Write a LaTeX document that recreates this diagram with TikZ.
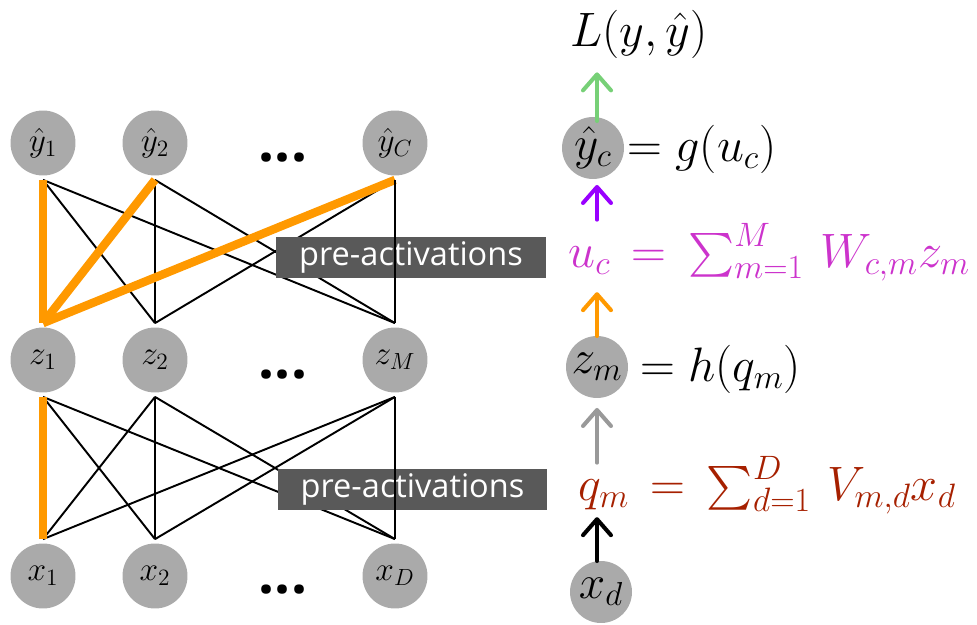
\RequirePackage{fix-cm}
\documentclass[tikz,border=0pt]{standalone}
\usepackage{amsmath}
\usepackage{exscale}
\usepackage{fontspec}
\newfontfamily\labelfont{Open Sans}
\usetikzlibrary{arrows.meta}
\definecolor{unitgray}{HTML}{AAAAAA}
\definecolor{boxgray}{HTML}{595959}
\definecolor{hotorange}{HTML}{FF9900}
\definecolor{lossgreen}{HTML}{77D077}
\definecolor{actpurple}{HTML}{9900FF}
\definecolor{sumpink}{HTML}{CC33CC}
\definecolor{sumred}{HTML}{A62000}
\definecolor{midgray}{HTML}{999999}
\tikzset{
  u/.style={circle,fill=unitgray,minimum size=1.3cm,inner sep=0pt,outer sep=2.5pt,font=\fontsize{19}{23}\selectfont},
  ubig/.style={u,minimum size=1.24cm,outer sep=0pt,font=\fontsize{27}{32}\selectfont},
  e/.style={line width=1.1pt},
  hot/.style={line width=4.8pt,draw=hotorange},
  pa/.style={fill=boxgray,text=white,minimum width=5.4cm,minimum height=0.82cm,inner sep=0pt,font=\labelfont\fontsize{18.5}{22}\selectfont},
  eq/.style={anchor=base west,inner sep=0pt,font=\fontsize{27.5}{32}\selectfont},
  dd/.style={inner sep=0pt,font=\labelfont\bfseries\fontsize{32}{36}\selectfont},
  up/.style={line width=2.3pt,line cap=round,-{Straight Barb[length=3.2mm,width=5.6mm,round]}},
}
\begin{document}
\begin{tikzpicture}[x=0.02cm,y=-0.02cm]
\useasboundingbox (0,0) rectangle (977,625);
% network
\node[u] (y1) at (43,143){$\hat y_1$}; \node[u] (y2) at (155,143){$\hat y_2$}; \node[u] (yC) at (395,143){$\hat y_C$};
\node[u] (z1) at (43,360){$z_1$}; \node[u] (z2) at (155,360){$z_2$}; \node[u] (zM) at (395,360){$z_M$};
\node[u] (x1) at (43,576){$x_1$}; \node[u] (x2) at (155,576){$x_2$}; \node[u] (xD) at (395,576){$x_D$};
\node[dd] (dy) at (283,158){...}; \node[dd] (dz) at (283,375){...}; \node[dd] (dx) at (283,590){...};
\draw[e] (y1.south)--(z2.north); \draw[e] (y1.south)--(zM.north); \draw[e] (y2.south)--(z2.north);
\draw[e] (y2.south)--(zM.north); \draw[e] (yC.south)--(z2.north);
\draw[e] (z1.south)--(x2.north); \draw[e] (z1.south)--(xD.north); \draw[e] (z2.south)--(x1.north);
\draw[e] (z2.south)--(x2.north); \draw[e] (z2.south)--(xD.north); \draw[e] (zM.south)--(x1.north);
\draw[e] (zM.south)--(x2.north);
\draw[hot] (y1.south)--(z1.north); \draw[hot] (y2.south)--(z1.north); \draw[hot] (yC.south)--(z1.north);
\draw[hot] (z1.south)--(x1.north);
\node[pa] (pa1) at (411,257.5){pre-activations}; \node[pa] (pa2) at (412.5,489.5){pre-activations};
\draw[e] (yC.south)--(zM.north); \draw[e] (zM.south)--(xD.north);
% one path
\node[eq] (loss) at (570,47){$L(y,\hat y)$};
\node[ubig] (yc) at (593,148){$\hat y_c$}; \node[eq] (gfun) at (627,161){$=g(u_c)$};
\node[eq,text=sumpink] (usum) at (568,267){$u_c\,=\,\sum_{m=1}^{M}\,W_{c,m}z_m$};
\node[ubig] (zm) at (597,367){$z_m$}; \node[eq] (hfun) at (640,381){$=h(q_m)$};
\node[eq,text=sumred] (qsum) at (578,500){$q_m\,=\,\sum_{d=1}^{D}\,V_{m,d}x_d$};
\node[ubig] (xd) at (601,592){$x_d$};
\draw[up,lossgreen,shorten >=0.26cm,shorten <=-0.08cm] (yc.north -| zm)--(loss.south -| zm);
\draw[up,actpurple,shorten >=0.12cm,shorten <=0.06cm] (usum.north -| zm)--(yc.south -| zm);
\draw[up,hotorange,shorten >=0.22cm] (zm.north)--(usum.south -| zm);
\draw[up,midgray,shorten >=0.2cm,shorten <=-0.14cm] (qsum.north -| zm)--(zm.south);
\draw[up,black,shorten >=0.06cm] (xd.north -| zm)--(qsum.south -| zm);
\end{tikzpicture}
\end{document}
